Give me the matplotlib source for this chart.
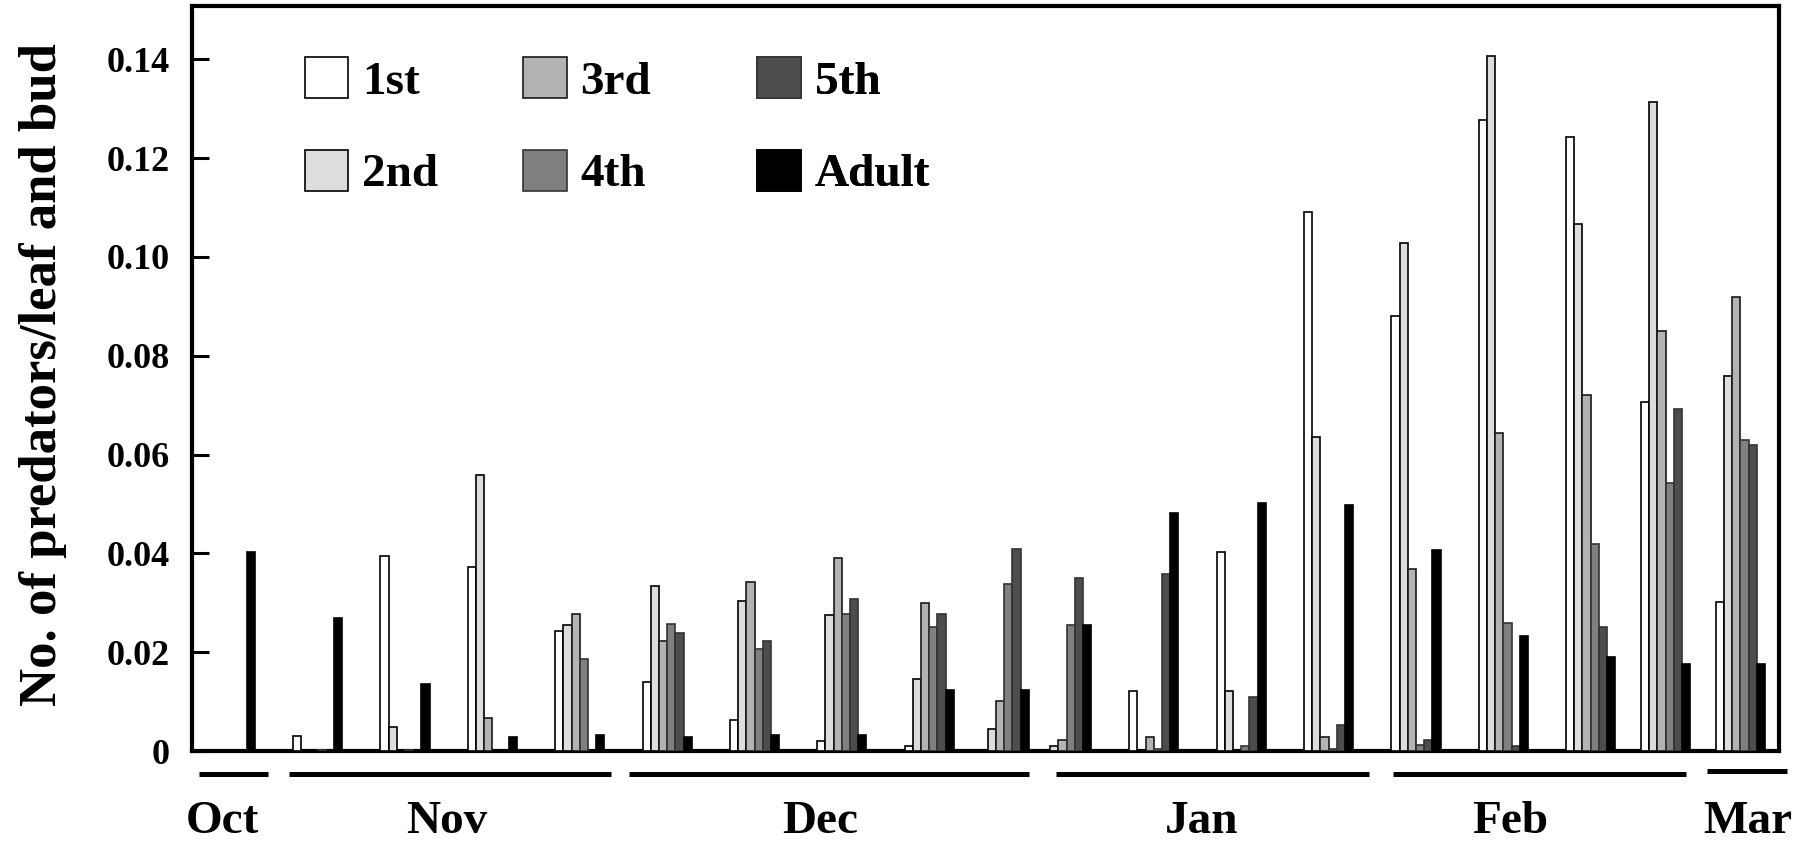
import matplotlib
matplotlib.use("Agg")
import matplotlib.pyplot as plt
import matplotlib.transforms as mtransforms
import numpy as np

# ---------------- data ----------------
stages = ["1st", "2nd", "3rd", "4th", "5th", "Adult"]
# sampling day (days after first sampling date)
sample_day = [0, 7, 14, 21, 28, 35, 42, 49, 56, 62, 67, 74, 81, 88, 95, 102, 109, 115, 121]

first = [0, 0.0031, 0.0394, 0.0372, 0.0243, 0.0140, 0.0062, 0.0020, 0.0010, 0, 0,
         0.0122, 0.0402, 0.1092, 0.0881, 0.1277, 0.1242, 0.0706, 0.0301]
second = [0, 0, 0.0049, 0.0558, 0.0255, 0.0334, 0.0304, 0.0275, 0.0145, 0.0045, 0.0010,
          0, 0.0122, 0.0635, 0.1028, 0.1407, 0.1067, 0.1313, 0.0759]
third = [0, 0, 0, 0.0066, 0.0277, 0.0222, 0.0343, 0.0391, 0.0299, 0.0101, 0.0022,
         0.0028, 0, 0.0028, 0.0368, 0.0643, 0.0721, 0.0850, 0.0918]
fourth = [0, 0.0003, 0.0003, 0, 0.0186, 0.0257, 0.0206, 0.0278, 0.0252, 0.0339, 0.0255,
          0.0004, 0.0010, 0.0004, 0.0013, 0.0260, 0.0419, 0.0542, 0.0630]
fifth = [0, 0, 0, 0, 0, 0.0239, 0.0222, 0.0308, 0.0278, 0.0409, 0.0351,
         0.0358, 0.0110, 0.0053, 0.0022, 0.0010, 0.0250, 0.0692, 0.0619]
adult = [0.0402, 0.0269, 0.0136, 0.0028, 0.0032, 0.0029, 0.0032, 0.0032, 0.0124, 0.0123, 0.0255,
         0.0481, 0.0501, 0.0498, 0.0407, 0.0233, 0.0191, 0.0176, 0.0176]
series = [first, second, third, fourth, fifth, adult]

months = ["Oct", "Nov", "Dec", "Jan", "Feb", "Mar"]
month_span = [(-0.56, 5.0), (6.7, 32.5), (33.9, 66.0), (68.1, 93.2), (95.1, 118.6), (120.3, 126.7)]
month_label_x = [1.3, 19.3, 49.2, 79.8, 104.5, 123.6]

yticks = [0, 0.02, 0.04, 0.06, 0.08, 0.10, 0.12, 0.14]
ytick_labels = ["0", "0.02", "0.04", "0.06", "0.08", "0.10", "0.12", "0.14"]

# ---------------- style ----------------
fills = ["#ffffff", "#dddddd", "#b3b3b3", "#808080", "#4d4d4d", "#000000"]
edges = ["#000000", "#000000", "#1a1a1a", "#333333", "#333333", "#000000"]
FONT = "Liberation Serif"

W, H, DPI = 1809, 843, 100
fig = plt.figure(figsize=(W / DPI, H / DPI), dpi=DPI)
ax = fig.add_axes([192 / W, (H - 751) / H, (1779 - 192) / W, (751 - 6) / H])

bar_w = 0.657
days = np.array(sample_day, dtype=float)
handles = []
for i, (vals, fc, ec, lab) in enumerate(zip(series, fills, edges, stages)):
    vals = np.array(vals)
    xs = days + i * bar_w + bar_w / 2
    mask = vals > 0
    b = ax.bar(xs[mask], vals[mask], width=bar_w, color=fc, edgecolor=ec,
               linewidth=1.2, label=lab, zorder=3)
    handles.append(b)

ax.set_xlim(-1.10, 126.06)
ax.set_ylim(0, 0.1508)

for side in ["left", "right", "top", "bottom"]:
    ax.spines[side].set_linewidth(3)
    ax.spines[side].set_color("black")

ax.set_xticks([])
ax.set_yticks(yticks)
ax.set_yticklabels(ytick_labels, fontfamily=FONT, fontweight="bold", fontsize=26)
ax.tick_params(axis="y", direction="in", length=12, width=2.2, pad=16)
ax.set_ylabel("No. of predators/leaf and bud", fontfamily=FONT, fontweight="bold", fontsize=38)
ax.yaxis.set_label_coords(-0.079, 0.505)

# month underlines and labels
trans = mtransforms.blended_transform_factory(ax.transData, ax.transAxes)
for m, (a, b), lx in zip(months, month_span, month_label_x):
    yline = -0.0268 if m == "Mar" else -0.0309
    ax.plot([a, b], [yline, yline], color="black", lw=3.6, transform=trans,
            clip_on=False, solid_capstyle="butt")
    ax.text(lx, -0.0955, m, transform=trans, ha="center", va="center",
            fontfamily=FONT, fontweight="bold", fontsize=34)

# legend in three columns
col_x = [304.5, 523, 757]
for j in range(3):
    hs = handles[2 * j:2 * j + 2]
    leg = ax.legend(hs, [h.get_label() for h in hs], loc="upper left",
                    bbox_to_anchor=(col_x[j] / W, 1 - 57 / H), bbox_transform=fig.transFigure,
                    frameon=False, borderpad=0, borderaxespad=0,
                    handlelength=0.93, handleheight=0.95, handletextpad=0.29,
                    labelspacing=0.98,
                    prop={"family": FONT, "weight": "bold", "size": 34})
    ax.add_artist(leg)

fig.savefig("out.png", dpi=DPI)
